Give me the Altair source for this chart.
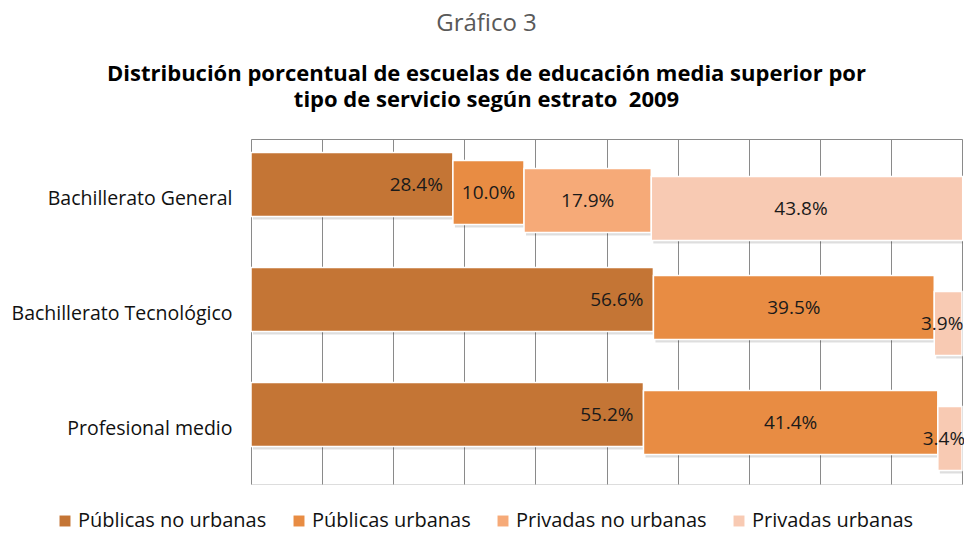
import altair as alt
import pandas as pd

categories = ["Bachillerato General", "Bachillerato Tecnológico", "Profesional medio"]
series = ["Públicas no urbanas", "Públicas urbanas", "Privadas no urbanas", "Privadas urbanas"]
pub_no_urb = [28.4, 56.6, 55.2]
pub_urb = [10.0, 39.5, 41.4]
priv_no_urb = [17.9, 0.0, 0.0]
priv_urb = [43.8, 3.9, 3.4]

colors = ["#C47535", "#E88C43", "#F6AA78", "#F8CAB3"]
offsets = [-12, -4, 4, 12]
FONT = "Open Sans"

rows = []
for i, (s, vals) in enumerate(zip(series, [pub_no_urb, pub_urb, priv_no_urb, priv_urb])):
    for c, v in zip(categories, vals):
        rows.append({"cat": c, "serie": s, "val": v, "order": i})
df = pd.DataFrame(rows)

base = alt.Chart(df).transform_stack(
    stack="val", groupby=["cat"], as_=["x0", "x1"], sort=[alt.SortField("order")]
).transform_calculate(
    mid="(datum.x0 + datum.x1) / 2",
    lab="format(datum.val, '.1f') + '%'",
)

x_axis = alt.Axis(orient="top", grid=True, gridColor="#8a8a8a", gridWidth=1,
                  domain=True, domainColor="#8a8a8a", labels=False, ticks=False,
                  title=None, values=list(range(0, 101, 10)))
x_scale = alt.Scale(domain=[0, 100], nice=False)
y_axis = alt.Axis(title=None, ticks=False, domain=False, labelFontSize=19.5,
                  labelFont=FONT, labelColor="#111", labelPadding=19, labelLimit=300,
                  labelOffset=2)
y_scale = alt.Scale(domain=categories, paddingInner=0, paddingOuter=0)

def xenc(field):
    return alt.X(f"{field}:Q", scale=x_scale, axis=x_axis)

yenc = alt.Y("cat:N", scale=y_scale, axis=y_axis)

color_enc = alt.Color(
    "serie:N",
    scale=alt.Scale(domain=series, range=colors),
    legend=alt.Legend(orient="none", legendX=-196, legendY=372, direction="horizontal",
                      title=None, symbolType="square", symbolSize=120,
                      symbolStrokeWidth=0, labelFontSize=20, labelFont=FONT,
                      labelColor="#111", columnPadding=22, labelOffset=3,
                      labelLimit=400),
)

shadows, bars, texts = [], [], []
for i, s in enumerate(series):
    f = base.transform_filter(alt.datum.serie == s).transform_filter(alt.datum.val > 0)
    shadows.append(
        f.mark_bar(height=64, color="#000000", opacity=0.13, xOffset=2, yOffset=offsets[i] + 3)
        .encode(x=xenc("x0"), x2="x1:Q", y=yenc)
    )
    bars.append(
        f.mark_bar(height=64, stroke="white", strokeWidth=1.5, yOffset=offsets[i])
        .encode(x=xenc("x0"), x2="x1:Q", y=yenc, color=color_enc)
    )
    if i == 0:
        t = f.mark_text(align="right", dx=-10, baseline="middle", yOffset=offsets[i],
                        fontSize=19, font=FONT, color="#1a1a1a").encode(
            x=xenc("x1"), y=yenc, text="lab:N")
    else:
        t = f.mark_text(align="center", baseline="middle", yOffset=offsets[i],
                        dx=-6 if i == 3 else 0,
                        fontSize=19, font=FONT, color="#1a1a1a").encode(
            x=xenc("mid"), y=yenc, text="lab:N")
    texts.append(t)

chart = alt.layer(*shadows, *bars, *texts).properties(
    width=711,
    height=345,
    autosize=alt.AutoSizeParams(type="none"),
    padding={"left": 243, "top": 131, "right": 2, "bottom": 46},
    title=alt.TitleParams(
        text="Gráfico 3",
        subtitle=["Distribución porcentual de escuelas de educación media superior por",
                  "tipo de servicio según estrato\u00a0 2009"],
        anchor="middle", dx=-120, offset=28,
        font=FONT, fontSize=24, fontWeight="normal", color="#595959",
        subtitleFont=FONT, subtitleFontSize=22, subtitleFontWeight="bold",
        subtitleColor="#000000", subtitlePadding=28, subtitleLineHeight=26,
    ),
).configure_view(stroke=None).configure(background="white")

chart.save("out.html", embed_options={"renderer": "svg", "actions": False})
